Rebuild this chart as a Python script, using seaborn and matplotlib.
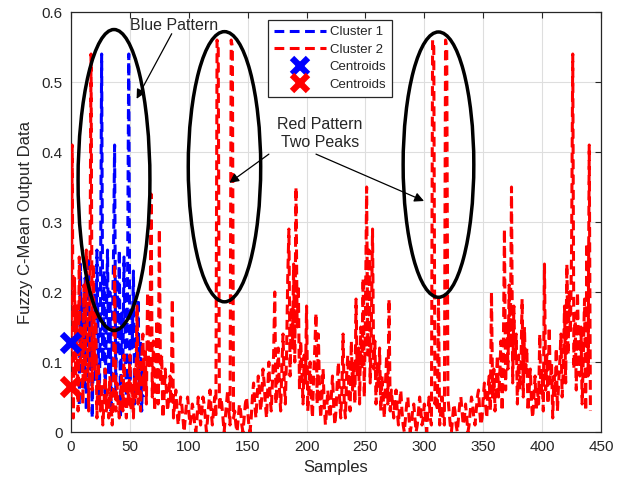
import numpy as np
import pandas as pd
import matplotlib
matplotlib.use("Agg")
import matplotlib.pyplot as plt
from matplotlib.patches import Ellipse
from matplotlib.lines import Line2D
import seaborn as sns

# ---------------- data ----------------
red_start = 0
red_a = [0.05, 0.41, 0.02, 0.22, 0.08, 0.18, 0.03, 0.25, 0.10, 0.15,
         0.04, 0.21, 0.07, 0.26, 0.12, 0.03, 0.19, 0.54, 0.06, 0.24,
         0.09, 0.17, 0.02, 0.10, 0.06, 0.03, 0.07, 0.01, 0.04, 0.09,
         0.03, 0.06, 0.02, 0.08, 0.04, 0.01, 0.06, 0.24, 0.03, 0.07,
         0.04, 0.02, 0.05, 0.08, 0.03, 0.11, 0.05, 0.02, 0.07, 0.04,
         0.11, 0.03, 0.07, 0.02, 0.09, 0.05, 0.18, 0.04, 0.10, 0.03]
red_b = [0.10, 0.14, 0.06, 0.12, 0.04, 0.20, 0.09, 0.12, 0.34, 0.05,
         0.13, 0.03, 0.09, 0.16, 0.04, 0.29, 0.07, 0.11, 0.02, 0.05,
         0.09, 0.06, 0.03, 0.05, 0.08, 0.04, 0.19, 0.02, 0.04, 0.06,
         0.03, 0.01, 0.03, 0.05, 0.04, 0.02, 0.00, 0.02, 0.04, 0.05,
         0.03, 0.01, 0.02, 0.04, 0.03, 0.01, 0.00, 0.02, 0.05, 0.03,
         0.01, 0.03, 0.05, 0.04, 0.02, 0.00, 0.02, 0.04, 0.06, 0.03]
red_c = [0.01, 0.03, 0.05, 0.02, 0.56, 0.55, 0.03, 0.05, 0.04, 0.02,
         0.00, 0.02, 0.04, 0.06, 0.03, 0.01, 0.56, 0.55, 0.02, 0.03,
         0.01, 0.00, 0.02, 0.04, 0.03, 0.01, 0.00, 0.02, 0.04, 0.05,
         0.03, 0.01, 0.00, 0.02, 0.05, 0.07, 0.04, 0.02, 0.05, 0.08,
         0.06, 0.03, 0.05, 0.09, 0.07, 0.04, 0.02, 0.06, 0.10, 0.05,
         0.03, 0.07, 0.11, 0.20, 0.04, 0.08, 0.12, 0.06, 0.03, 0.09]
red_d = [0.14, 0.07, 0.04, 0.11, 0.22, 0.29, 0.08, 0.18, 0.12, 0.24,
         0.10, 0.35, 0.15, 0.21, 0.06, 0.13, 0.09, 0.04, 0.11, 0.07,
         0.18, 0.03, 0.06, 0.10, 0.05, 0.02, 0.08, 0.12, 0.17, 0.04,
         0.14, 0.06, 0.02, 0.05, 0.09, 0.04, 0.01, 0.03, 0.06, 0.04,
         0.02, 0.05, 0.08, 0.04, 0.01, 0.03, 0.07, 0.10, 0.05, 0.02,
         0.06, 0.14, 0.04, 0.02, 0.08, 0.11, 0.05, 0.03, 0.13, 0.06]
red_e = [0.10, 0.04, 0.19, 0.08, 0.12, 0.04, 0.15, 0.09, 0.22, 0.05,
         0.17, 0.35, 0.11, 0.26, 0.07, 0.15, 0.29, 0.09, 0.13, 0.04,
         0.10, 0.06, 0.12, 0.03, 0.08, 0.05, 0.02, 0.07, 0.11, 0.04,
         0.19, 0.03, 0.06, 0.04, 0.02, 0.05, 0.06, 0.03, 0.01, 0.04,
         0.06, 0.03, 0.01, 0.00, 0.02, 0.04, 0.05, 0.02, 0.00, 0.01,
         0.03, 0.04, 0.02, 0.00, 0.01, 0.03, 0.05, 0.03, 0.01, 0.02]
red_f = [0.04, 0.02, 0.00, 0.03, 0.05, 0.02, 0.01, 0.56, 0.55, 0.04,
         0.05, 0.03, 0.19, 0.01, 0.03, 0.05, 0.02, 0.01, 0.56, 0.55,
         0.05, 0.03, 0.01, 0.00, 0.02, 0.04, 0.03, 0.01, 0.00, 0.02,
         0.04, 0.05, 0.03, 0.01, 0.02, 0.04, 0.02, 0.00, 0.01, 0.03,
         0.05, 0.04, 0.02, 0.01, 0.03, 0.05, 0.06, 0.03, 0.01, 0.02,
         0.05, 0.07, 0.04, 0.02, 0.06, 0.08, 0.03, 0.20, 0.05, 0.09]
red_g = [0.03, 0.07, 0.11, 0.05, 0.08, 0.13, 0.03, 0.10, 0.29, 0.06,
         0.16, 0.09, 0.21, 0.12, 0.35, 0.07, 0.18, 0.10, 0.14, 0.04,
         0.11, 0.06, 0.09, 0.19, 0.05, 0.15, 0.08, 0.12, 0.03, 0.06,
         0.09, 0.04, 0.02, 0.05, 0.08, 0.03, 0.06, 0.04, 0.14, 0.05,
         0.09, 0.03, 0.24, 0.06, 0.11, 0.04, 0.15, 0.07, 0.10, 0.02,
         0.08, 0.05, 0.12, 0.03, 0.07, 0.10, 0.14, 0.05, 0.09, 0.18]
red_h = [0.07, 0.24, 0.11, 0.20, 0.14, 0.26, 0.54, 0.09, 0.17, 0.06,
         0.20, 0.12, 0.08, 0.15, 0.04, 0.11, 0.19, 0.03, 0.27, 0.08,
         0.41, 0.03]

blue_start = 7
blue_vals = [0.04, 0.24, 0.11, 0.19, 0.06, 0.22, 0.03, 0.14,
             0.25, 0.09, 0.17, 0.02, 0.12, 0.21, 0.07, 0.26, 0.13, 0.04,
             0.18, 0.54, 0.10, 0.23, 0.05, 0.16, 0.26, 0.08, 0.20, 0.03,
             0.14, 0.24, 0.41, 0.06, 0.22, 0.11, 0.26, 0.02, 0.17, 0.09,
             0.25, 0.13, 0.05, 0.21, 0.54, 0.07, 0.18, 0.12, 0.23, 0.04,
             0.15, 0.10, 0.19, 0.06, 0.13, 0.03, 0.09, 0.05]

centroid_x = [0, 0]
centroid_y = [0.127, 0.065]

legend_labels = ["Cluster 1", "Cluster 2", "Centroids", "Centroids"]
x_ticks = [0, 50, 100, 150, 200, 250, 300, 350, 400, 450]
y_ticks = [0, 0.1, 0.2, 0.3, 0.4, 0.5, 0.6]
y_tick_labels = ["0", "0.1", "0.2", "0.3", "0.4", "0.5", "0.6"]

# ---------------- frames ----------------
red_vals = red_a + red_b + red_c + red_d + red_e + red_f + red_g + red_h
df_red = pd.DataFrame({"Samples": np.arange(red_start, red_start + len(red_vals)),
                       "Value": red_vals})
df_blue = pd.DataFrame({"Samples": np.arange(blue_start, blue_start + len(blue_vals)),
                        "Value": blue_vals})

# ---------------- style ----------------
sns.set_style("white")
plt.rcParams["font.family"] = ["Liberation Sans", "DejaVu Sans"]
txt = "#262626"

fig = plt.figure(figsize=(6.29, 4.87), dpi=100)
ax = fig.add_axes([0.1129, 0.1129, 0.8426, 0.8624])

dash = (0, (3.2, 1.8))
sns.lineplot(data=df_blue, x="Samples", y="Value", color="#0000ff", lw=2.2,
             linestyle=dash, estimator=None, sort=False, ax=ax, zorder=3)
sns.lineplot(data=df_red, x="Samples", y="Value", color="#ff0000", lw=2.2,
             linestyle=dash, estimator=None, sort=False, ax=ax, zorder=4)

ax.plot(centroid_x[0], centroid_y[0], marker="x", color="#0000ff", ms=13, mew=4.5,
        ls="none", clip_on=False, zorder=5)
ax.plot(centroid_x[1], centroid_y[1], marker="x", color="#ff0000", ms=13, mew=4.5,
        ls="none", clip_on=False, zorder=5)

# ellipses
for (cx, cy, w, h) in [(36.5, 0.36, 61, 0.43), (130.3, 0.379, 61.5, 0.386),
                       (312, 0.382, 60, 0.379)]:
    ax.add_patch(Ellipse((cx, cy), w, h, fill=False, ec="black", lw=2.5, zorder=6))

# annotations
arrow_kw = dict(arrowstyle="-|>", color="black", lw=0.9, mutation_scale=14,
                shrinkA=0, shrinkB=0)
ax.text(87.9, 0.581, "Blue Pattern", ha="center", va="center",
        fontsize=11.5, color=txt, zorder=7)
ax.annotate("", xy=(55.7, 0.476), xytext=(85.5, 0.569), arrowprops=arrow_kw, zorder=7)
ax.text(211.4, 0.427, "Red Pattern\nTwo Peaks", ha="center", va="center",
        fontsize=11.5, color=txt, linespacing=1.25, zorder=7)
ax.annotate("", xy=(134.4, 0.356), xytext=(168, 0.397), arrowprops=arrow_kw, zorder=7)
ax.annotate("", xy=(299.7, 0.33), xytext=(208, 0.397), arrowprops=arrow_kw, zorder=7)

# axes
ax.set_xlim(0, 450)
ax.set_ylim(0, 0.6)
ax.set_xticks(x_ticks)
ax.set_xticklabels([str(v) for v in x_ticks])
ax.set_yticks(y_ticks)
ax.set_yticklabels(y_tick_labels)
ax.grid(True, color="#dedede", lw=0.8)
ax.set_axisbelow(True)
ax.tick_params(direction="in", length=4, width=0.8, colors=txt, labelsize=11,
               top=True, right=True, pad=6)
for s in ax.spines.values():
    s.set_color(txt)
    s.set_linewidth(0.9)
    s.set_visible(True)
ax.set_xlabel("Samples", fontsize=12, color=txt, labelpad=4)
ax.set_ylabel("Fuzzy C-Mean Output Data", fontsize=12, color=txt, labelpad=6)

handles = [
    Line2D([], [], color="#0000ff", lw=2.2, linestyle=dash),
    Line2D([], [], color="#ff0000", lw=2.2, linestyle=dash),
    Line2D([], [], color="#0000ff", marker="x", ms=12, mew=4.5, ls="none"),
    Line2D([], [], color="#ff0000", marker="x", ms=12, mew=4.5, ls="none"),
]
leg = ax.legend(handles, legend_labels, loc="upper left",
                bbox_to_anchor=(0.372, 0.981), fontsize=9.5, frameon=True,
                fancybox=False, edgecolor=txt, framealpha=1,
                handlelength=3.9, handletextpad=0.3, labelspacing=0.4,
                borderpad=0.45, borderaxespad=0)
leg.get_frame().set_linewidth(0.9)
leg.set_zorder(8)
for t in leg.get_texts():
    t.set_color(txt)

fig.savefig("out.png", dpi=100)
